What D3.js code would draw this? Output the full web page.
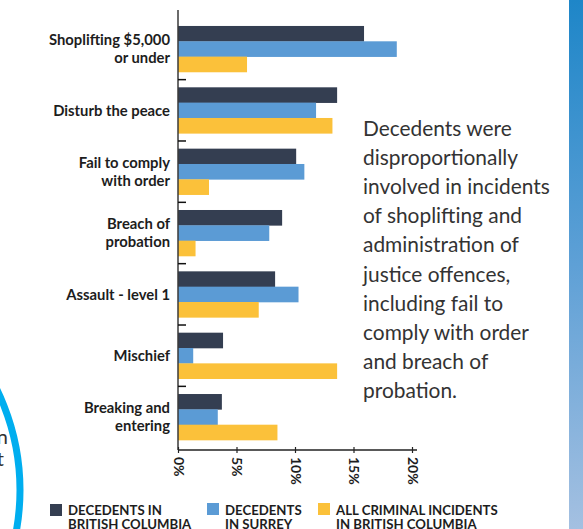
<!DOCTYPE html>
<html><head><meta charset="utf-8">
<script src="https://cdn.jsdelivr.net/npm/d3@7"></script>
<style>
html,body{margin:0;padding:0;background:#fff;}
svg{display:block;}
</style></head>
<body>
<script>
const categories = [
  ["Shoplifting $5,000","or under"],
  ["Disturb the peace"],
  ["Fail to comply","with order"],
  ["Breach of","probation"],
  ["Assault - level 1"],
  ["Mischief"],
  ["Breaking and","entering"]
];
const seriesNames = ["DECEDENTS IN BRITISH COLUMBIA","DECEDENTS IN SURREY","ALL CRIMINAL INCIDENTS IN BRITISH COLUMBIA"];
const legendLines = [["DECEDENTS IN","BRITISH COLUMBIA"],["DECEDENTS","IN SURREY"],["ALL CRIMINAL INCIDENTS","IN BRITISH COLUMBIA"]];
const bcDecedents    = [15.9, 13.6, 10.1, 8.9, 8.3, 3.85, 3.75];
const surreyDecedents= [18.7, 11.8, 10.8, 7.8, 10.3, 1.3, 3.4];
const allIncidents   = [5.9, 13.2, 2.65, 1.5, 6.9, 13.6, 8.5];
const xTicks = [0,5,10,15,20];
const colors = ["#343e51","#5b9bd5","#fbc13a"];
const note = ["Decedents were","disproportionally","involved in incidents","of shoplifting and","administration of","justice offences,","including fail to","comply with order","and breach of","probation."];

const W=583,H=529;
const svg=d3.select("body").append("svg").attr("width",W).attr("height",H);

// right gradient strip
const defs=svg.append("defs");
const g1=defs.append("linearGradient").attr("id","strip").attr("x1",0).attr("y1",0).attr("x2",0).attr("y2",1);
g1.append("stop").attr("offset","0%").attr("stop-color","#1e86c8");
g1.append("stop").attr("offset","50%").attr("stop-color","#5ea0d6");
g1.append("stop").attr("offset","100%").attr("stop-color","#a4c0e1");
svg.append("rect").attr("x",569).attr("y",0).attr("width",14).attr("height",H).attr("fill","url(#strip)");

// blue circle arc at left
svg.append("circle").attr("cx",-209).attr("cy",490).attr("r",229).attr("fill","none").attr("stroke","#00aeef").attr("stroke-width",7);
svg.append("text").attr("x",8).attr("y",444).attr("text-anchor","end").attr("font-family","Lato").attr("font-size",20).attr("fill","#333").text("n");
svg.append("text").attr("x",4).attr("y",466).attr("text-anchor","end").attr("font-family","Lato").attr("font-size",20).attr("fill","#333").text("t");

const x=d3.scaleLinear().domain([0,20]).range([178,412]);
const idx=d3.range(categories.length);
const y=d3.scaleBand().domain(idx).range([18.3,447.7]).paddingInner(0.25).paddingOuter(0.125);
const ySub=d3.scaleBand().domain([0,1,2]).range([0,y.bandwidth()]);
const seriesVals=[bcDecedents,surreyDecedents,allIncidents];

const bars=svg.append("g");
seriesVals.forEach((vals,s)=>{
  bars.selectAll(null).data(vals).enter().append("rect")
    .attr("x",x(0))
    .attr("y",(d,i)=>y(i)+ySub(s))
    .attr("width",d=>x(d)-x(0))
    .attr("height",ySub.bandwidth()+0.3)
    .attr("fill",colors[s]);
});

// y axis line and ticks between groups
svg.append("line").attr("x1",178).attr("x2",178).attr("y1",10).attr("y2",450).attr("stroke","#3a3a3a").attr("stroke-width",1.5);
svg.selectAll(null).data(idx.slice(1)).enter().append("line")
  .attr("x1",178).attr("x2",186)
  .attr("y1",i=>y(i)-y.step()*y.paddingInner()/2)
  .attr("y2",i=>y(i)-y.step()*y.paddingInner()/2)
  .attr("stroke","#111").attr("stroke-width",1.5);

// category labels
const lab=svg.append("g").attr("font-family","Lato").attr("font-weight","bold").attr("font-size",14.8).attr("fill","#1d1d1d").attr("text-anchor","end");
categories.forEach((lines,i)=>{
  const cy=y(i)+y.bandwidth()/2;
  const lh=18.5;
  const t=lab.append("text").attr("x",170);
  lines.forEach((l,k)=>{
    t.append("tspan").attr("x",170).attr("y",cy+(k-(lines.length-1)/2)*lh+5.2).text(l);
  });
});

// x axis
const xa=svg.append("g").attr("transform","translate(0,450)")
  .call(d3.axisBottom(x).tickValues(xTicks).tickFormat(d=>d+"%").tickSizeInner(4).tickSizeOuter(0));
xa.select(".domain").attr("d","M178,0H417").attr("stroke","#222").attr("stroke-width",1.5);
xa.selectAll(".tick line").attr("y1",-3).attr("y2",3).attr("stroke","#222").attr("stroke-width",1.2);
xa.selectAll(".tick text")
  .attr("transform","rotate(90)")
  .attr("x",7).attr("y",0).attr("dy","0.35em")
  .attr("text-anchor","start")
  .attr("font-family","Lato").attr("font-weight","bold").attr("font-size",14).attr("fill","#1d1d1d");

// annotation
const nt=svg.append("text").attr("font-family","Lato").attr("font-size",20.9).attr("fill","#333");
note.forEach((l,k)=>nt.append("tspan").attr("x",363).attr("y",136+k*29.1).text(l));

// legend
const legX=[50,207,318];
const lg=svg.append("g").attr("font-family","Lato").attr("font-weight","bold").attr("font-size",13.2).attr("fill","#1d1d1d");
legendLines.forEach((lines,s)=>{
  lg.append("rect").attr("x",legX[s]).attr("y",s===0?504:503).attr("width",12).attr("height",12).attr("fill",colors[s]);
  const t=lg.append("text");
  lines.forEach((l,k)=>t.append("tspan").attr("x",legX[s]+18).attr("y",515+k*14).text(l));
});
</script>
</body></html>
